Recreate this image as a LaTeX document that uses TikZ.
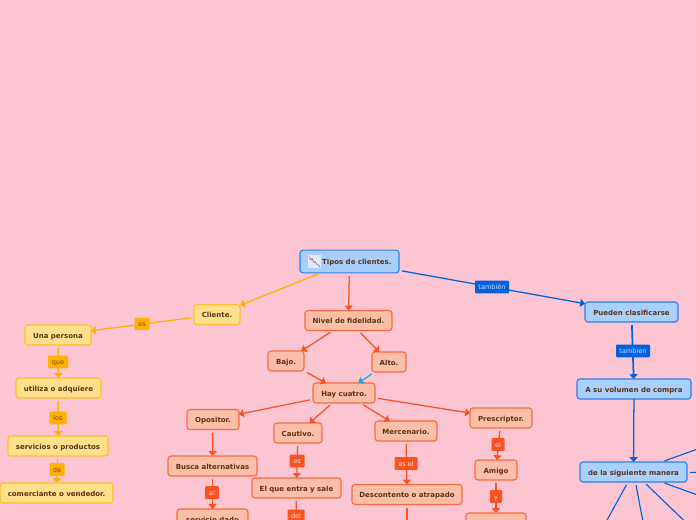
\documentclass[tikz,border=0pt]{standalone}
\usepackage{fontspec}
\setmainfont{DejaVu Sans}
\usetikzlibrary{arrows.meta}
\definecolor{bgpink}{HTML}{FCC5D2}
\definecolor{txt}{HTML}{5C3312}
\definecolor{yfill}{HTML}{FFE08C}
\definecolor{yline}{HTML}{FFBE2E}
\definecolor{ylab}{HTML}{FFB000}
\definecolor{ofill}{HTML}{FBBFA9}
\definecolor{oline}{HTML}{FA6A40}
\definecolor{olab}{HTML}{FA5220}
\definecolor{bfill}{HTML}{A9CFFF}
\definecolor{bline}{HTML}{2F7DE8}
\definecolor{blab}{HTML}{0062DA}
\definecolor{cyanline}{HTML}{1AA8E6}
\tikzset{
  wpx/.style={minimum width=#1*0.75pt},
  box/.style={rectangle,rounded corners=2.2pt,line width=0.8pt,minimum height=15pt,inner sep=0pt,outer sep=0pt,
    text=txt,text height=4.6pt,text depth=0pt,font=\fontsize{5.25}{6}\selectfont\bfseries},
  ybox/.style={box,draw=yline,fill=yfill},
  obox/.style={box,draw=oline,fill=ofill},
  bbox/.style={box,draw=bline,fill=bfill},
  lab/.style={rectangle,rounded corners=0.8pt,minimum height=9.5pt,inner sep=0pt,outer sep=0pt,text height=3.8pt,text depth=0pt,font=\fontsize{4.9}{5.5}\selectfont},
  ylabel/.style={lab,fill=ylab,text=txt!80!ylab},
  olabel/.style={lab,fill=olab,text=white!85!olab},
  blabel/.style={lab,fill=blab,text=bfill!60!white},
  conn/.style={line width=0.95pt,shorten <=2.4pt,-{Triangle[length=3.6pt,width=6pt]}},
  yconn/.style={conn,draw=ylab},
  oconn/.style={conn,draw=olab},
  bconn/.style={conn,draw=blab},
  cconn/.style={conn,draw=cyanline},
  fline/.style={line width=0.85pt,shorten <=2.4pt,draw=blab},
}
\begin{document}
\begin{tikzpicture}[x=0.75pt,y=-0.75pt]
\useasboundingbox (0,0) rectangle (696,520);
\clip (0,0) rectangle (696,520);
\fill[bgpink] (0,0) rectangle (696,520);

% nodes
\node[bbox,wpx=99,minimum height=17pt] (tipos) at (349.5,261.5) {\hspace{11pt}Tipos de clientes.};
\node[ybox,wpx=46] (cliente) at (217,314.5) {Cliente.};
\node[ybox,wpx=66] (persona) at (58,335) {Una persona};
\node[ybox,wpx=85] (utiliza) at (58.5,388) {utiliza o adquiere};
\node[ybox,wpx=100] (servicios) at (58,446) {servicios o productos};
\node[ybox,wpx=113] (comerciante) at (56.5,493) {comerciante o vendedor.};
\node[obox,wpx=87] (nivel) at (348.5,320.5) {Nivel de fidelidad.};
\node[obox,wpx=36] (bajo) at (286,361) {Bajo.};
\node[obox,wpx=34] (alto) at (389,362) {Alto.};
\node[obox,wpx=62] (hay) at (344,393) {Hay cuatro.};
\node[obox,wpx=52] (opositor) at (213,419.5) {Opositor.};
\node[obox,wpx=48] (cautivo) at (298,433) {Cautivo.};
\node[obox,wpx=62] (mercenario) at (406,431) {Mercenario.};
\node[obox,wpx=62] (prescriptor) at (501,418) {Prescriptor.};
\node[obox,wpx=89] (busca) at (212.5,466) {Busca alternativas};
\node[obox,wpx=71] (dado) at (212.5,519) {servicio dado};
\node[obox,wpx=89] (entra) at (296.5,488) {El que entra y sale};
\node[obox,wpx=110] (descontento) at (407,494.5) {Descontento o atrapado};
\node[obox,wpx=42] (amigo) at (496,470) {Amigo};
\node[obox,wpx=60] (amigob) at (496,523) {};
\node[bbox,wpx=93] (pueden) at (631.5,312) {Pueden clasificarse};
\node[bbox,wpx=114] (volumen) at (634,389) {A su volumen de compra};
\node[bbox,wpx=107] (manera) at (633.5,472) {de la siguiente manera};

% icon inside the root node
\node[rectangle,fill=white!60!bfill,minimum size=9.5pt,inner sep=0pt] (icono) at (314.5,261.5) {};
\draw[line width=0.5pt,draw=red!70!white] ([shift={(-5.5,-5)}]icono.center) -- ++(2,3.5) -- ++(1,-1.5) -- ++(2,4) -- ++(1,-1) -- ++(2,3) -- ++(1.5,0.5) -- ++(1.5,2);

% free ends
\coordinate (entraout) at (296,540);
\coordinate (descout) at (407,540);
\coordinate (m1) at (720,441);
\coordinate (m2) at (720,472.5);
\coordinate (m3) at (720,503);
\coordinate (m4) at (700,536);
\coordinate (m5) at (646.5,540);
\coordinate (m6) at (595,542);

% connectors
\draw[yconn] (tipos) -- (cliente);
\draw[yconn] (cliente) -- (persona);
\draw[yconn] (persona) -- (utiliza);
\draw[yconn] (utiliza) -- (servicios);
\draw[yconn] (servicios) -- (comerciante);
\draw[oconn] (tipos) -- (nivel);
\draw[oconn] (nivel) -- (bajo);
\draw[oconn] (nivel) -- (alto);
\draw[oconn] (bajo) -- (hay);
\draw[cconn] (alto) -- (hay);
\draw[oconn] (hay) -- (opositor);
\draw[oconn] (hay) -- (cautivo);
\draw[oconn] (hay) -- (mercenario);
\draw[oconn] (hay) -- (prescriptor);
\draw[oconn] (opositor) -- (busca);
\draw[oconn] (busca) -- (dado);
\draw[oconn] (cautivo) -- (entra);
\draw[oconn] (mercenario) -- (descontento);
\draw[oconn] (prescriptor) -- (amigo);
\draw[oconn] (amigo) -- (amigob);
\draw[oconn,-] (entra) -- (entraout);
\draw[oconn,-] (descontento) -- (descout);
\draw[bconn] (tipos) -- (pueden);
\draw[bconn,line width=1.3pt] (pueden) -- (volumen);
\draw[bconn,shorten <=0pt] (volumen) -- (manera);
\draw[fline] (manera) -- (m1);
\draw[fline] (manera) -- (m2);
\draw[fline] (manera) -- (m3);
\draw[fline] (manera) -- (m4);
\draw[fline] (manera) -- (m5);
\draw[fline] (manera) -- (m6);

% connector labels
\node[ylabel,wpx=15,minimum height=9pt] (l1) at (142,324) {es};
\node[ylabel,wpx=20] (l2) at (58,362) {que};
\node[ylabel,wpx=17,minimum height=9.5pt] (l3) at (58,418) {los};
\node[ylabel,wpx=15] (l4) at (57,469.5) {de};
\node[olabel,wpx=14] (l5) at (212,492.5) {al};
\node[olabel,wpx=15] (l6) at (297,461) {es};
\node[olabel,wpx=17] (l7) at (296,516) {del};
\node[olabel,wpx=23] (l8) at (406,463.5) {es el};
\node[olabel,wpx=13] (l9) at (498,444.5) {el};
\node[olabel,wpx=12] (l10) at (496,496.5) {y};
\node[blabel,wpx=34] (l11) at (492,287) {también};
\node[blabel,wpx=34] (l12) at (633,351) {tambien};
\end{tikzpicture}
\end{document}
